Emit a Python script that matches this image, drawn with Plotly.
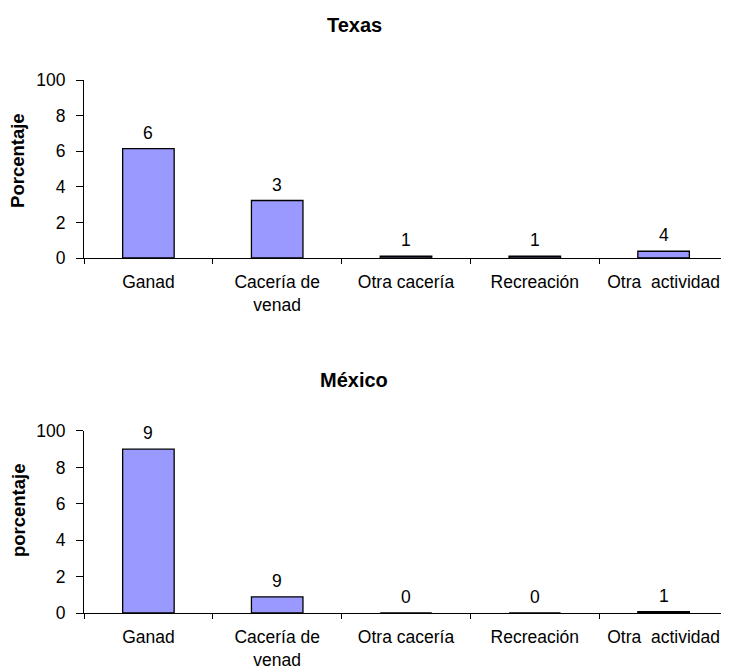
import plotly.graph_objects as go
from plotly.subplots import make_subplots

categories = ["Ganad", "Cacería de<br>venad", "Otra cacería", "Recreación", "Otra\u00a0 actividad"]
texas_values = [61.5, 32.3, 1, 1, 3.8]
texas_labels = ["6", "3", "1", "1", "4"]
mexico_values = [90, 8.9, 0, 0, 0.8]
mexico_labels = ["9", "9", "0", "0", "1"]
y_tickvals = [0, 20, 40, 60, 80, 100]
y_ticktext = ["0", "2", "4", "6", "8", "100"]

FONT = "Liberation Sans, Arial, sans-serif"
BAR = "#9999FF"

fig = make_subplots(rows=2, cols=1, vertical_spacing=0.3)

for row, vals, labs in [(1, texas_values, texas_labels), (2, mexico_values, mexico_labels)]:
    fig.add_trace(go.Bar(x=categories, y=vals, marker=dict(color=BAR, line=dict(color="black", width=1.3)),
                         showlegend=False, hoverinfo="skip"), row=row, col=1)
    xref = "x" if row == 1 else "x2"
    yref = "y" if row == 1 else "y2"
    for c, v, t in zip(categories, vals, labs):
        fig.add_annotation(x=c, y=v, xref=xref, yref=yref, text=t, showarrow=False,
                           yanchor="middle", yshift=16, font=dict(family=FONT, size=17.5, color="black"))

axis_common = dict(showline=True, linecolor="black", linewidth=1, showgrid=False, zeroline=False,
                   automargin=False, ticks="outside", tickcolor="black",
                   tickfont=dict(family=FONT, size=17.5, color="black"))
fig.update_xaxes(**axis_common, ticklen=5, tickson="boundaries", ticklabelstandoff=8)
fig.update_yaxes(**axis_common, ticklen=7, ticklabelstandoff=7, range=[0, 100],
                 tickvals=y_tickvals, ticktext=y_ticktext)

fig.update_layout(
    width=729, height=661,
    margin=dict(l=76, r=9, t=72, b=56, autoexpand=False),
    plot_bgcolor="white", paper_bgcolor="white",
    bargap=0.6,
    xaxis=dict(domain=[0, 1]),
    xaxis2=dict(domain=[0, 1]),
    yaxis=dict(domain=[0.666, 1]),
    yaxis2=dict(domain=[0, 0.3415]),
    font=dict(family=FONT, color="black"),
)

fig.add_annotation(text="<b>Texas</b>", xref="paper", yref="paper", x=0.42, y=1.103, showarrow=False,
                   xanchor="center", yanchor="middle", font=dict(family=FONT, size=20, color="black"))
fig.add_annotation(text="<b>México</b>", xref="paper", yref="paper", x=0.42, y=0.438, showarrow=False,
                   xanchor="center", yanchor="middle", font=dict(family=FONT, size=20, color="black"))
fig.add_annotation(text="<b>Porcentaje</b>", xref="paper", yref="paper", x=-0.1025, y=0.85, showarrow=False,
                   textangle=-90, xanchor="center", yanchor="middle", font=dict(family=FONT, size=18.5, color="black"))
fig.add_annotation(text="<b>porcentaje</b>", xref="paper", yref="paper", x=-0.1025, y=0.193, showarrow=False,
                   textangle=-90, xanchor="center", yanchor="middle", font=dict(family=FONT, size=18.5, color="black"))

fig.write_html("out.html")
